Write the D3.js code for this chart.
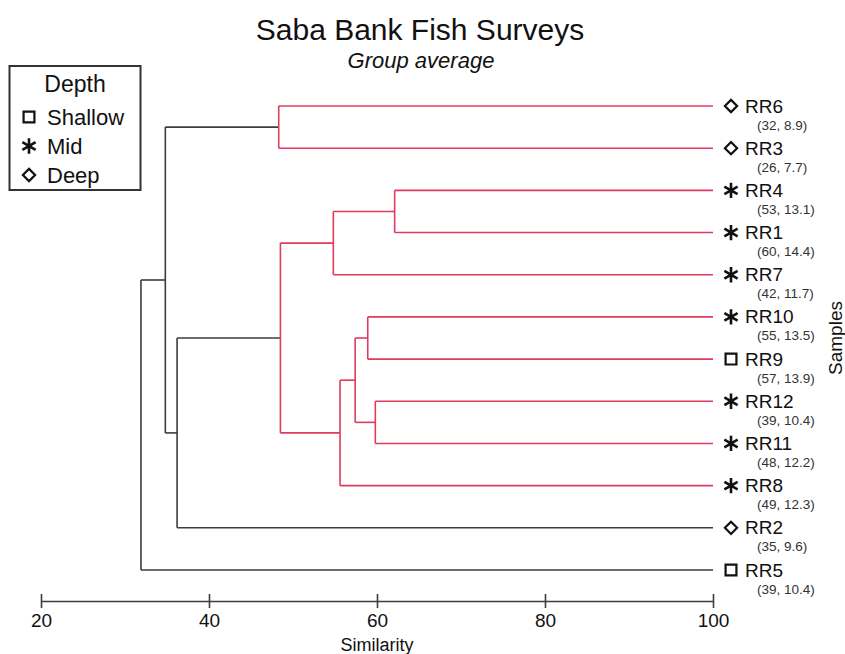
<!DOCTYPE html>
<html>
<head>
<meta charset="utf-8">
<script src="https://cdn.jsdelivr.net/npm/d3@7"></script>
<style>
  body { margin: 0; background: white; }
  svg { font-family: Arial, "Liberation Sans", sans-serif; }
</style>
</head>
<body>
<svg id="chart" width="845" height="654"></svg>
<script>
// samples, top to bottom as in the dendrogram
const leaves = ["RR6", "RR3", "RR4", "RR1", "RR7", "RR10", "RR9", "RR12", "RR11", "RR8", "RR2", "RR5"];
const depth = ["Deep", "Deep", "Mid", "Mid", "Mid", "Mid", "Shallow", "Mid", "Mid", "Mid", "Deep", "Shallow"];
const species = [32, 26, 53, 60, 42, 55, 57, 39, 48, 49, 35, 39];
const diversity = [8.9, 7.7, 13.1, 14.4, 11.7, 13.5, 13.9, 10.4, 12.2, 12.3, 9.6, 10.4];

// merges: [left, right, similarity]; numbers point at earlier merges
const mergeLeft = ["RR4", "RR10", "RR12", 1, 0, 3, 4, "RR6", 6, 7, 9];
const mergeRight = ["RR1", "RR9", "RR11", 2, "RR7", "RR8", 5, "RR3", "RR2", 8, "RR5"];
const mergeSim = [62.1, 58.9, 59.8, 57.4, 54.8, 55.6, 48.5, 48.3, 36.2, 34.8, 31.9];
// groups above this level are drawn red
const groupCut = 45;

const depthLevels = ["Shallow", "Mid", "Deep"];
const xTicks = [20, 40, 60, 80, 100];

const svg = d3.select("svg#chart");
const red = "#e03a5f";
const grey = "#3c3c3c";

const x = d3.scaleLinear().domain([20, 100]).range([41, 713]);
const y = d3.scalePoint().domain(leaves).range([106, 570]);

// symbols per depth
const symType = {Shallow: d3.symbolSquare2, Mid: d3.symbolAsterisk, Deep: d3.symbolDiamond2};
const symSize = {Shallow: 150, Mid: 165, Deep: 95};
const symGen = d => d3.symbol().type(symType[d]).size(symSize[d])();

// build the tree
function node(ref) {
    if (typeof ref === "string") return {name: ref, sim: 100};
    return {sim: mergeSim[ref], children: [node(mergeLeft[ref]), node(mergeRight[ref])]};
}
const root = d3.hierarchy(node(mergeSim.length - 1));
root.eachAfter(n => {
    n.px = x(n.data.sim);
    n.py = n.children ? d3.mean(n.children, c => c.py) : y(n.data.name);
});

// title
svg.append("text").attr("x", 420).attr("y", 40).attr("text-anchor", "middle")
    .attr("font-size", 30).attr("fill", "#111").text("Saba Bank Fish Surveys");
svg.append("text").attr("x", 421).attr("y", 68).attr("text-anchor", "middle")
    .attr("font-size", 22).attr("font-style", "italic").attr("fill", "#111").text("Group average");

// branches
const g = svg.append("g").attr("fill", "none").attr("stroke-width", 1.6);
root.descendants().filter(n => n.children).forEach(n => {
    const col = n.data.sim > groupCut ? red : grey;
    const ys = n.children.map(c => c.py);
    g.append("line").attr("x1", n.px).attr("x2", n.px)
        .attr("y1", d3.min(ys)).attr("y2", d3.max(ys)).attr("stroke", col);
    n.children.forEach(c => {
        g.append("line").attr("x1", n.px).attr("x2", c.px)
            .attr("y1", c.py).attr("y2", c.py).attr("stroke", col);
    });
});

// leaf labels
const lab = svg.append("g").selectAll("g").data(leaves).join("g")
    .attr("transform", d => `translate(0,${y(d)})`);
lab.append("path").attr("transform", "translate(731,0)")
    .attr("d", (d, i) => symGen(depth[i]))
    .attr("fill", "none").attr("stroke", "#111")
    .attr("stroke-width", (d, i) => depth[i] === "Mid" ? 2.6 : 2.2);
lab.append("text").attr("x", 745).attr("y", 6.5).attr("font-size", 19).attr("fill", "#111").text(d => d);
lab.append("text").attr("x", 757).attr("y", 23.5).attr("font-size", 13.5).attr("fill", "#333")
    .text((d, i) => `(${species[i]}, ${diversity[i]})`);

svg.append("text").attr("transform", "translate(845,338) rotate(-90)")
    .attr("text-anchor", "middle").attr("dy", -3).attr("font-size", 19).attr("fill", "#111").text("Samples");

// axis
const axis = svg.append("g").attr("transform", "translate(0,601)")
    .call(d3.axisBottom(x).tickValues(xTicks).tickSize(7).tickSizeOuter(0).tickPadding(6));
axis.select(".domain").attr("stroke", grey).attr("stroke-width", 1.6);
axis.selectAll(".tick line").attr("y1", -7).attr("y2", 7).attr("stroke", grey).attr("stroke-width", 1.6);
axis.selectAll(".tick text").attr("font-size", 19).attr("fill", "#111")
    .attr("font-family", "Arial, 'Liberation Sans', sans-serif");
svg.append("text").attr("x", 377).attr("y", 651).attr("text-anchor", "middle")
    .attr("font-size", 18).attr("fill", "#111").text("Similarity");

// legend
const leg = svg.append("g");
leg.append("rect").attr("x", 9.5).attr("y", 66).attr("width", 131).attr("height", 124)
    .attr("fill", "white").attr("stroke", "#333").attr("stroke-width", 2);
leg.append("text").attr("x", 75).attr("y", 92).attr("text-anchor", "middle")
    .attr("font-size", 23).attr("fill", "#111").text("Depth");
const li = leg.selectAll("g.item").data(depthLevels).join("g").attr("class", "item")
    .attr("transform", (d, i) => `translate(0,${117 + i * 29})`);
li.append("path").attr("transform", "translate(29,0)").attr("d", d => symGen(d))
    .attr("fill", "none").attr("stroke", "#111")
    .attr("stroke-width", d => d === "Mid" ? 2.6 : 2.2);
li.append("text").attr("x", 47).attr("y", 7.5).attr("font-size", 22).attr("fill", "#111").text(d => d);
</script>
</body>
</html>
